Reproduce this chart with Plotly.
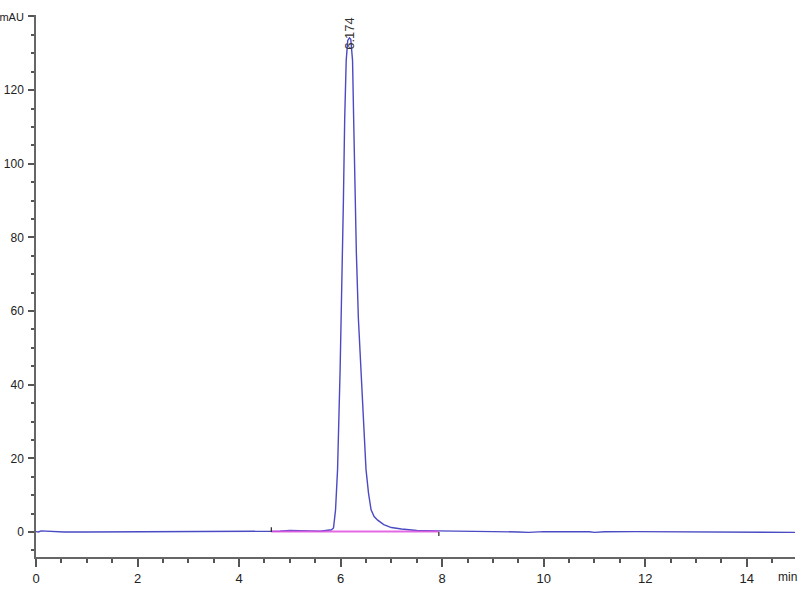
import plotly.graph_objects as go

# Chromatogram signal (time in min, absorbance in mAU)
time_min = [0.0, 0.05, 0.1, 0.2, 0.5, 0.55, 1.0, 2.0, 3.0, 3.5, 4.0, 4.6, 4.65, 4.8, 5.0, 5.2, 5.4,
            5.6, 5.75, 5.82, 5.86, 5.88, 5.90, 5.94, 5.97, 5.99, 6.01, 6.03, 6.055, 6.08, 6.11, 6.14,
            6.174, 6.20, 6.235, 6.26, 6.285, 6.31, 6.35, 6.40, 6.45, 6.50, 6.55, 6.60, 6.66, 6.73,
            6.85, 7.0, 7.2, 7.5, 7.9, 8.3, 8.6, 9.0, 9.5, 9.7, 10.0, 10.5, 10.9, 11.0, 11.2, 11.8,
            12.5, 13.0, 13.6, 14.0, 14.95]
signal_mau = [0.1, 0.0, 0.3, 0.25, 0.2, 0.0, 0.0, 0.0, 0.0, 0.05, 0.0, 0.05, 0.1, 0.2, 0.4, 0.45, 0.3,
              0.2, 0.35, 0.6, 1.1, 3.0, 6.0, 17, 30, 44, 58, 70, 90, 112, 128, 133.5,
              134.2, 133.8, 128, 110, 90, 76, 58, 44, 30, 17, 10.5, 6.0, 4.2, 3.2,
              2.0, 1.2, 0.8, 0.4, 0.3, 0.3, 0.1, 0.1, 0.0, -0.1, 0.1, 0.15, 0.05, -0.1, 0.05, 0.1,
              0.05, 0.0, 0.0, -0.1, -0.1]

# Integration baseline
baseline_time = [4.635, 7.935]
baseline_mau = [0.1, 0.1]

# Peak label
peak_time = 6.174
peak_height = 134.2
peak_label = "6.174"

# Axis ticks
y_tickvals = [0, 20, 40, 60, 80, 100, 120, 140]
y_ticktext = ["0", "20", "40", "60", "80", "100", "120",
              "<span style='font-size:11px'>mAU</span>"]
x_tickvals = [0, 2, 4, 6, 8, 10, 12, 14]

FONT_FAMILY = "Liberation Sans, Arial, sans-serif"

fig = go.Figure()

fig.add_trace(go.Scatter(x=time_min, y=signal_mau, mode="lines",
                         line=dict(color="#4a4ac4", width=1.4), hoverinfo="skip"))
fig.add_trace(go.Scatter(x=baseline_time, y=baseline_mau, mode="lines",
                         line=dict(color="#e050e0", width=2), opacity=0.85, hoverinfo="skip"))
# integration event markers
fig.add_trace(go.Scatter(x=[baseline_time[0], baseline_time[0]], y=[0, 1.3], mode="lines",
                         line=dict(color="#222222", width=1.2), hoverinfo="skip"))
fig.add_trace(go.Scatter(x=[baseline_time[1], baseline_time[1]], y=[0, -1.1], mode="lines",
                         line=dict(color="#222222", width=1.2), hoverinfo="skip"))

fig.add_annotation(x=peak_time, y=peak_height, text=peak_label, textangle=-90, showarrow=False,
                   xanchor="center", yanchor="bottom", yshift=-14,
                   font=dict(family=FONT_FAMILY, size=13, color="#333333"))
fig.add_annotation(x=1, y=0, xref="paper", yref="paper", text="min", showarrow=False,
                   xanchor="right", yanchor="top", yshift=-11, xshift=4,
                   font=dict(family=FONT_FAMILY, size=12, color="#222222"))

font_main = dict(family=FONT_FAMILY, size=13, color="#222222")

fig.update_layout(
    width=800, height=600,
    margin=dict(l=36, r=5, t=15, b=43, autoexpand=False),
    paper_bgcolor="white", plot_bgcolor="white",
    showlegend=False,
    font=font_main,
    xaxis=dict(range=[0, 14.95], tickvals=x_tickvals, showgrid=False, zeroline=False,
               automargin=False,
               showline=True, linecolor="#666666", linewidth=2, ticks="outside", ticklen=8,
               tickcolor="#555555", tickwidth=1.5,
               minor=dict(dtick=0.5, ticks="outside", ticklen=4, tickcolor="#555555", tickwidth=1.5),
               tickfont=font_main),
    yaxis=dict(range=[-6.8, 140.4], tickvals=y_tickvals, ticktext=y_ticktext, showgrid=False,
               automargin=False,
               zeroline=False, showline=True, linecolor="#666666", linewidth=1.5, ticks="outside",
               ticklen=6, tickcolor="#555555", tickwidth=1.5, ticklabelstandoff=2,
               minor=dict(dtick=5, ticks="outside", ticklen=3, tickcolor="#555555", tickwidth=1.5),
               tickfont=dict(family=FONT_FAMILY, size=12, color="#222222")),
)

fig.write_html("out.html", config={"displayModeBar": False},
               post_script="document.body.style.margin='0';")
